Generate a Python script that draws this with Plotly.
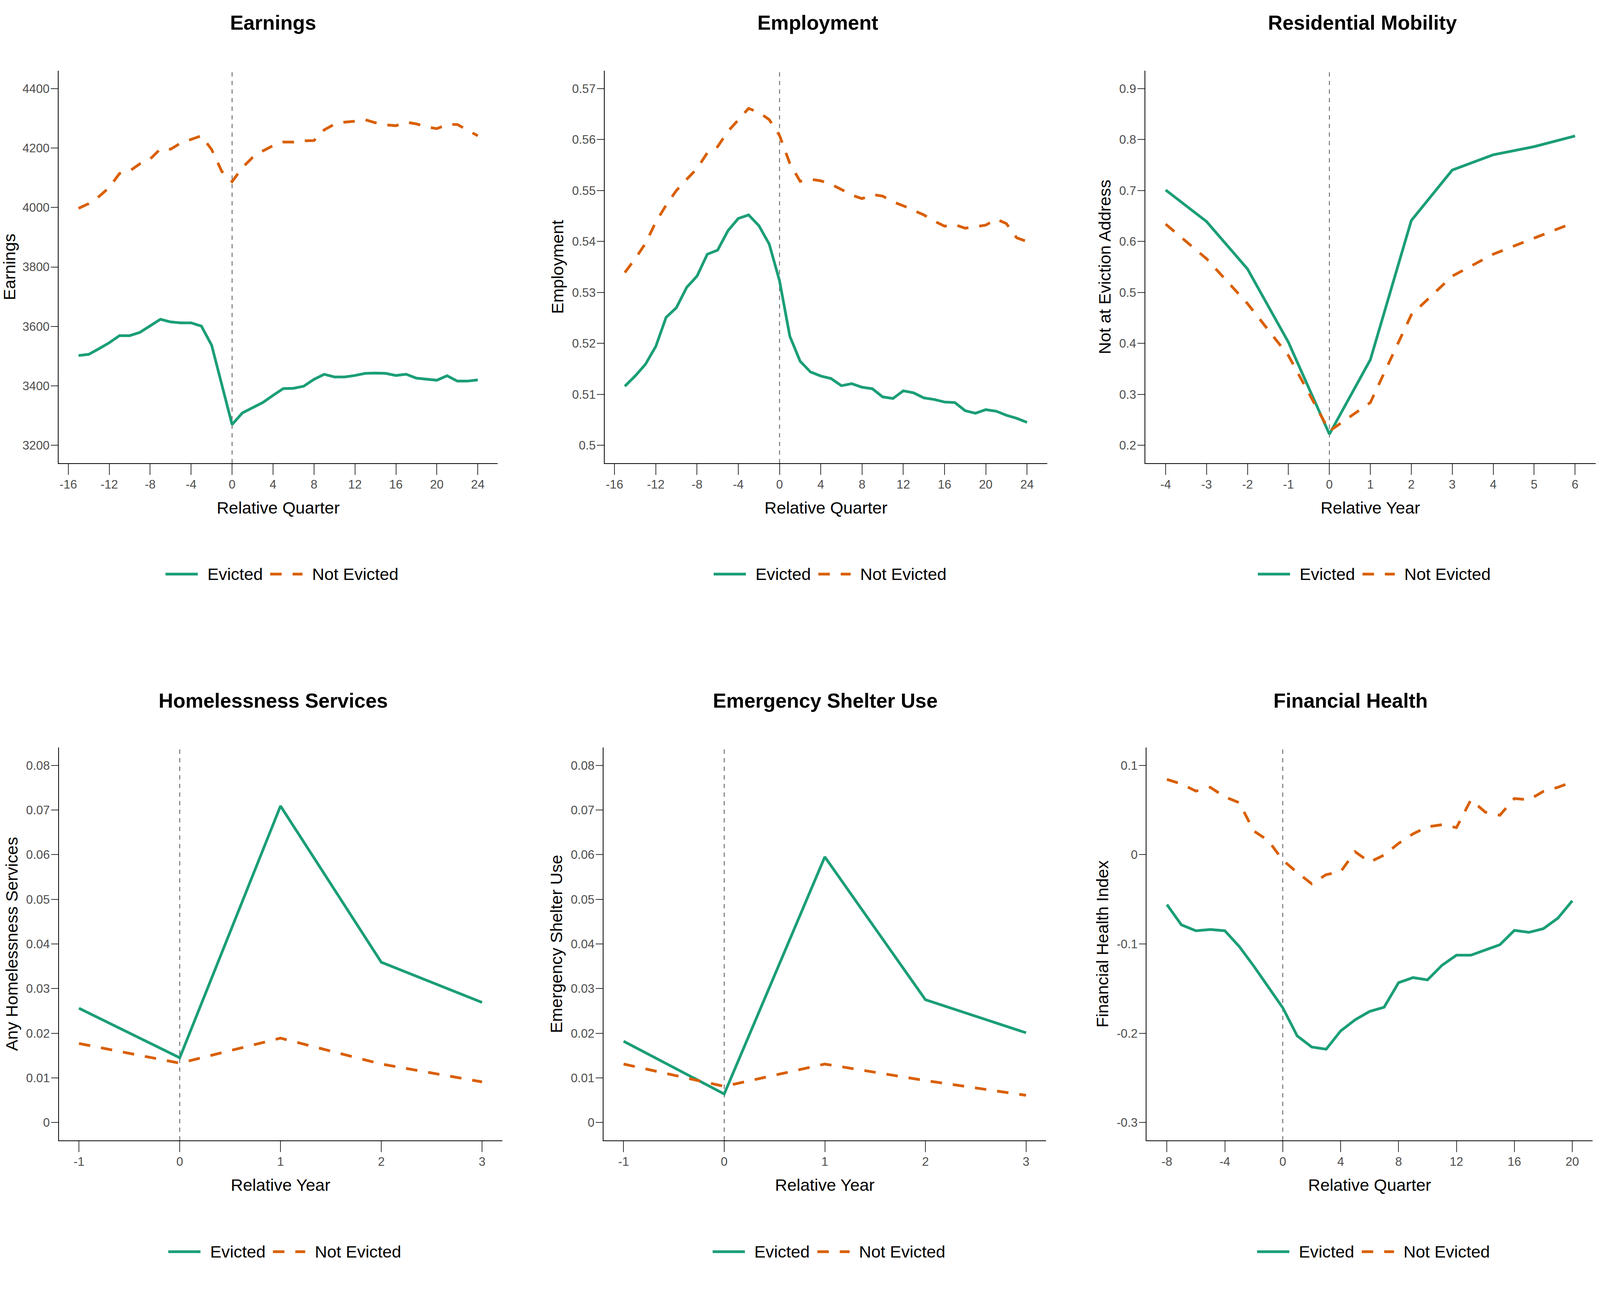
import plotly.graph_objects as go

# ---- data ----
quarters_long = list(range(-15, 25))
earnings_evicted = [3502, 3506, 3525, 3545, 3569, 3569, 3580, 3601, 3624, 3615,
                    3612, 3612, 3601, 3537, 3400, 3270, 3309, 3327, 3344, 3368,
                    3391, 3392, 3399, 3422, 3439, 3430, 3430, 3435, 3442, 3443,
                    3442, 3435, 3439, 3426, 3422, 3419, 3434, 3416, 3416, 3420]
earnings_not = [3997, 4013, 4037, 4067, 4114, 4123, 4147, 4163, 4197, 4196,
                4217, 4229, 4241, 4195, 4121, 4087, 4134, 4168, 4190, 4208,
                4220, 4220, 4224, 4225, 4261, 4280, 4287, 4290, 4295, 4285,
                4278, 4275, 4287, 4281, 4271, 4265, 4279, 4279, 4261, 4241]
employment_evicted = [0.5116, 0.5136, 0.5159, 0.5194, 0.5251, 0.5270, 0.5310, 0.5332,
                      0.5375, 0.5383, 0.5421, 0.5445, 0.5452, 0.5431, 0.5395, 0.5323,
                      0.5214, 0.5165, 0.5144, 0.5136, 0.5131, 0.5117, 0.5121, 0.5114,
                      0.5111, 0.5095, 0.5092, 0.5107, 0.5103, 0.5093, 0.5090, 0.5085,
                      0.5084, 0.5068, 0.5063, 0.5070, 0.5067, 0.5059, 0.5053, 0.5045]
employment_not = [0.5339, 0.5366, 0.5396, 0.5438, 0.5471, 0.5500, 0.5522, 0.5543,
                  0.5574, 0.5586, 0.5616, 0.5639, 0.5661, 0.5653, 0.5639, 0.5608,
                  0.5553, 0.5518, 0.5522, 0.5519, 0.5512, 0.5502, 0.5491, 0.5484,
                  0.5492, 0.5489, 0.5478, 0.5470, 0.5461, 0.5452, 0.5440, 0.5430,
                  0.5433, 0.5426, 0.5429, 0.5432, 0.5444, 0.5435, 0.5407, 0.5400]

years_mobility = list(range(-4, 7))
mobility_evicted = [0.701, 0.639, 0.546, 0.402, 0.222, 0.368, 0.641, 0.740, 0.770, 0.786, 0.807]
mobility_not = [0.634, 0.566, 0.478, 0.376, 0.228, 0.284, 0.456, 0.532, 0.575, 0.606, 0.638]

years_short = [-1, 0, 1, 2, 3]
homeless_evicted = [0.0256, 0.0145, 0.0709, 0.0359, 0.0269]
homeless_not = [0.0177, 0.0133, 0.0189, 0.0131, 0.0091]
shelter_evicted = [0.0182, 0.0064, 0.0595, 0.0275, 0.0201]
shelter_not = [0.0131, 0.0081, 0.0131, 0.0094, 0.0061]

quarters_fin = list(range(-8, 21))
financial_evicted = [-0.0559, -0.0786, -0.0852, -0.0838, -0.0852, -0.1029, -0.1248, -0.1476,
                     -0.1714, -0.2030, -0.2154, -0.2179, -0.1974, -0.1849, -0.1756, -0.1709,
                     -0.1434, -0.1377, -0.1402, -0.1239, -0.1126, -0.1126, -0.1070, -0.1009,
                     -0.0848, -0.0870, -0.0829, -0.0712, -0.0517]
financial_not = [0.0843, 0.0792, 0.0712, 0.0754, 0.0647, 0.0582, 0.0265, 0.0158,
                 -0.0061, -0.0200, -0.0326, -0.0224, -0.0191, 0.0033, -0.0084, -0.0005,
                 0.0126, 0.0233, 0.0312, 0.0335, 0.0303, 0.0615, 0.0475, 0.0442,
                 0.0629, 0.0615, 0.0708, 0.0754, 0.0815]

titles = ["Earnings", "Employment", "Residential Mobility",
          "Homelessness Services", "Emergency Shelter Use", "Financial Health"]
y_titles = ["Earnings", "Employment", "Not at Eviction Address",
            "Any Homelessness Services", "Emergency Shelter Use", "Financial Health Index"]
x_titles = ["Relative Quarter", "Relative Quarter", "Relative Year",
            "Relative Year", "Relative Year", "Relative Quarter"]
series_names = ["Evicted", "Not Evicted"]

x_ticks = [list(range(-16, 25, 4)), list(range(-16, 25, 4)), list(range(-4, 7)),
           [-1, 0, 1, 2, 3], [-1, 0, 1, 2, 3], list(range(-8, 21, 4))]
y_ticks = [[3200, 3400, 3600, 3800, 4000, 4200, 4400],
           [0.50, 0.51, 0.52, 0.53, 0.54, 0.55, 0.56, 0.57],
           [0.2, 0.3, 0.4, 0.5, 0.6, 0.7, 0.8, 0.9],
           [0, 0.01, 0.02, 0.03, 0.04, 0.05, 0.06, 0.07, 0.08],
           [0, 0.01, 0.02, 0.03, 0.04, 0.05, 0.06, 0.07, 0.08],
           [-0.3, -0.2, -0.1, 0, 0.1]]
y_tick_text = [["3200", "3400", "3600", "3800", "4000", "4200", "4400"],
               ["0.5", "0.51", "0.52", "0.53", "0.54", "0.55", "0.56", "0.57"],
               ["0.2", "0.3", "0.4", "0.5", "0.6", "0.7", "0.8", "0.9"],
               ["0", "0.01", "0.02", "0.03", "0.04", "0.05", "0.06", "0.07", "0.08"],
               ["0", "0.01", "0.02", "0.03", "0.04", "0.05", "0.06", "0.07", "0.08"],
               ["-0.3", "-0.2", "-0.1", "0", "0.1"]]
y_limits = [(3200, 4400), (0.50, 0.57), (0.2, 0.9), (0, 0.08), (0, 0.08), (-0.3, 0.1)]

panels = [
    (quarters_long, earnings_evicted, earnings_not),
    (quarters_long, employment_evicted, employment_not),
    (years_mobility, mobility_evicted, mobility_not),
    (years_short, homeless_evicted, homeless_not),
    (years_short, shelter_evicted, shelter_not),
    (quarters_fin, financial_evicted, financial_not),
]

# ---- layout geometry, measured in pixels of the 6448 x 3321 reference ----
W, H = 6448, 3321
x_px = [(236, 2006), (2437, 4220), (4615, 6430), (237, 2024), (2432, 4216), (4621, 6418)]
row_px = [(181, 1186), (1914, 2920)]
title_x = [1101, 3295, 5491, 1101, 3325, 5443]
title_y = [58, 1794]
legend_x = [1136, 3345, 5538, 1147, 3341, 5535]
legend_y = [1470, 3205]

# the page fills the browser window, which comes out ~4100 css px wide but the
# full 3321 tall: horizontal sizes (and fonts) shrink, vertical ones stay
KX = 0.636
KY = 1.0

GREEN = "#1b9e77"
ORANGE = "#d95f02"
FONT = "Arial, Liberation Sans, sans-serif"
DASH = f"{46 * KX:.1f}px,{44 * KX:.1f}px"


def expand(lo, hi):
    pad = (hi - lo) * 0.05
    return [lo - pad, hi + pad]


fig = go.Figure()
shapes = []
annotations = []

for i, (xs, ev, ne) in enumerate(panels):
    n = i + 1
    xa = "x" if n == 1 else f"x{n}"
    ya = "y" if n == 1 else f"y{n}"
    row = 0 if i < 3 else 1

    fig.add_trace(go.Scatter(x=xs, y=ev, mode="lines", name=series_names[0],
                             line=dict(color=GREEN, width=11 * KX), showlegend=False,
                             xaxis=xa, yaxis=ya))
    fig.add_trace(go.Scatter(x=xs, y=ne, mode="lines", name=series_names[1],
                             line=dict(color=ORANGE, width=11 * KX, dash=DASH), showlegend=False,
                             xaxis=xa, yaxis=ya))

    x0, x1 = x_px[i]
    top, bot = row_px[row]
    axis_common = dict(
        showline=True, linecolor="black", linewidth=2,
        ticks="outside", tickwidth=2, tickcolor="#333333",
        tickfont=dict(family=FONT, size=49 * KX, color="#4d4d4d"),
        showgrid=False, zeroline=False, fixedrange=True,
    )
    fig.layout[f"xaxis{'' if n == 1 else n}"] = dict(
        axis_common, domain=[x0 / W, x1 / W], anchor=ya,
        range=expand(min(xs), max(xs)),
        tickvals=x_ticks[i], ticktext=[str(v) for v in x_ticks[i]],
        ticklen=28 * KY, ticklabelstandoff=-2,
        title=dict(text=x_titles[i], font=dict(family=FONT, size=68 * KX, color="black"),
                   standoff=27),
    )
    fig.layout[f"yaxis{'' if n == 1 else n}"] = dict(
        axis_common, domain=[1 - bot / H, 1 - top / H], anchor=xa,
        range=expand(*y_limits[i]),
        tickvals=y_ticks[i], ticktext=y_tick_text[i],
        ticklen=28 * KX, ticklabelstandoff=-3,
        title=dict(text=y_titles[i], font=dict(family=FONT, size=68 * KX, color="black"),
                   standoff=8),
    )

    # vertical reference line at the eviction date
    shapes.append(dict(type="line", xref=xa, yref=f"{ya} domain", x0=0, x1=0, y0=0, y1=1,
                       line=dict(color="#555555", width=2, dash="11px,11px"),
                       layer="below"))

    # panel title
    annotations.append(dict(text=f"<b>{titles[i]}</b>", xref="paper", yref="paper",
                            x=title_x[i] / W, y=1 - title_y[row] / H,
                            xanchor="center", yanchor="middle", showarrow=False,
                            font=dict(family=FONT, size=81 * KX, color="black")))

    # legend drawn under each panel
    cx, cy = legend_x[i], legend_y[row]
    shapes.append(dict(type="line", xref="paper", yref="paper",
                       x0=(cx - 469) / W, x1=(cx - 339) / W, y0=1 - cy / H, y1=1 - cy / H,
                       line=dict(color=GREEN, width=11 * KX)))
    shapes.append(dict(type="line", xref="paper", yref="paper",
                       x0=(cx - 47) / W, x1=(cx + 83) / W, y0=1 - cy / H, y1=1 - cy / H,
                       line=dict(color=ORANGE, width=11 * KX, dash=DASH)))
    annotations.append(dict(text=series_names[0], xref="paper", yref="paper",
                            x=(cx - 304) / W, y=1 - cy / H, xanchor="left", yanchor="middle",
                            showarrow=False, font=dict(family=FONT, size=68 * KX, color="black")))
    annotations.append(dict(text=series_names[1], xref="paper", yref="paper",
                            x=(cx + 118) / W, y=1 - cy / H, xanchor="left", yanchor="middle",
                            showarrow=False, font=dict(family=FONT, size=68 * KX, color="black")))

fig.update_layout(
    autosize=True,
    margin=dict(l=0, r=0, t=0, b=0),
    paper_bgcolor="white", plot_bgcolor="white",
    font=dict(family=FONT),
    showlegend=False,
    shapes=shapes,
    annotations=annotations,
)

fig.write_html("out.html", default_width="100vw", default_height="100vh",
               config={"displayModeBar": False},
               post_script="document.body.style.margin='0';")
